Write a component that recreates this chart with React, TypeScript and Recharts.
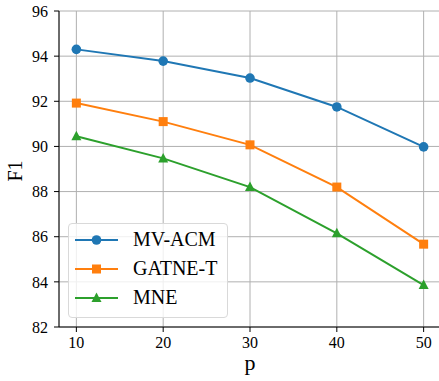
import {
  CartesianGrid,
  Label,
  Line,
  LineChart,
  XAxis,
  YAxis
} from "recharts";

const pValues = [10, 20, 30, 40, 50];
const mvAcm = [94.3, 93.78, 93.03, 91.75, 89.98];
const gatneT = [91.92, 91.1, 90.07, 88.2, 85.67];
const mne = [90.45, 89.47, 88.2, 86.15, 83.86];
const xTicks = [10, 20, 30, 40, 50];
const yTicks = [82, 84, 86, 88, 90, 92, 94, 96];

const data = pValues.map((p, i) => ({
  p,
  mvAcm: mvAcm[i],
  gatneT: gatneT[i],
  mne: mne[i]
}));

const FONT = '"Liberation Serif", "DejaVu Serif", serif';
const BLUE = "#1f77b4";
const ORANGE = "#ff7f0e";
const GREEN = "#2ca02c";

const series = [
  { key: "mvAcm", name: "MV-ACM", color: BLUE, shape: "circle" },
  { key: "gatneT", name: "GATNE-T", color: ORANGE, shape: "square" },
  { key: "mne", name: "MNE", color: GREEN, shape: "triangle" }
];

function Marker({ cx, cy, shape, color }: any) {
  if (cx == null || cy == null) return null;
  if (shape === "square") {
    return <rect x={cx - 4.5} y={cy - 4.5} width={9} height={9} fill={color} />;
  }
  if (shape === "triangle") {
    return (
      <polygon
        points={`${cx},${cy - 5.5} ${cx + 5},${cy + 4} ${cx - 5},${cy + 4}`}
        fill={color}
      />
    );
  }
  return <circle cx={cx} cy={cy} r={4.8} fill={color} />;
}

// legend drawn as an overlay so it doesn't take space from the plot
function LegendBox() {
  return (
    <div
      style={{
        position: "absolute",
        left: 68,
        top: 223,
        width: 160,
        height: 95,
        boxSizing: "border-box",
        border: "1px solid #d9d9d9",
        borderRadius: 4,
        background: "rgba(255,255,255,0.8)",
        fontFamily: FONT,
        fontSize: 20,
        paddingTop: 1
      }}
    >
      {series.map((s) => (
        <div
          key={s.key}
          style={{ display: "flex", alignItems: "center", height: 29 }}
        >
          <svg width={62} height={20} style={{ marginLeft: 2, flexShrink: 0 }}>
            <line x1={4} y1={10} x2={47} y2={10} stroke={s.color} strokeWidth={2} />
            <Marker cx={25.5} cy={10} shape={s.shape} color={s.color} />
          </svg>
          <span style={{ color: "#000", whiteSpace: "nowrap" }}>{s.name}</span>
        </div>
      ))}
    </div>
  );
}

export default function App() {
  return (
    <div
      style={{
        position: "fixed",
        left: 0,
        top: 0,
        width: 439,
        height: 381,
        overflow: "hidden",
        background: "#fff",
        fontFamily: FONT
      }}
    >
      <LineChart
        width={441}
        height={381}
        data={data}
        margin={{ top: 11, right: 0, bottom: 0, left: 0 }}
        style={{ fontFamily: FONT }}
      >
        <CartesianGrid stroke="#b0b0b0" strokeWidth={1} />
        <XAxis
          dataKey="p"
          type="number"
          domain={[8, 52]}
          ticks={xTicks}
          height={54}
          tickSize={5}
          tickMargin={5}
          stroke="#000"
          tick={{ fill: "#000", fontSize: 16 }}
        >
          <Label
            content={({ viewBox }: any) => (
              <text
                x={viewBox.x + viewBox.width / 2}
                y={370}
                textAnchor="middle"
                fontSize={22}
                fill="#000"
              >
                p
              </text>
            )}
          />
        </XAxis>
        <XAxis
          xAxisId="top"
          orientation="top"
          dataKey="p"
          type="number"
          domain={[8, 52]}
          height={0}
          tick={false}
          tickLine={false}
          stroke="#000"
        />
        <YAxis
          type="number"
          domain={[82, 96]}
          ticks={yTicks}
          width={59}
          tickSize={5}
          tickMargin={6}
          stroke="#000"
          tick={{ fill: "#000", fontSize: 16 }}
        >
          <Label
            content={({ viewBox }: any) => {
              const x = 15;
              const y = viewBox.y + viewBox.height / 2 + 2;
              return (
                <text
                  x={x}
                  y={y}
                  transform={`rotate(-90, ${x}, ${y})`}
                  textAnchor="middle"
                  dominantBaseline="central"
                  fontSize={20}
                  fill="#000"
                >
                  F1
                </text>
              );
            }}
          />
        </YAxis>
        <YAxis
          yAxisId="right"
          orientation="right"
          domain={[82, 96]}
          width={0}
          tick={false}
          tickLine={false}
          stroke="#000"
        />
        {series.map((s) => (
          <Line
            key={s.key}
            dataKey={s.key}
            name={s.name}
            stroke={s.color}
            strokeWidth={2}
            isAnimationActive={false}
            dot={(props: any) => (
              <Marker
                key={`${s.key}-${props.index}`}
                cx={props.cx}
                cy={props.cy}
                shape={s.shape}
                color={s.color}
              />
            )}
            activeDot={false}
          />
        ))}
      </LineChart>
      <LegendBox />
    </div>
  );
}
